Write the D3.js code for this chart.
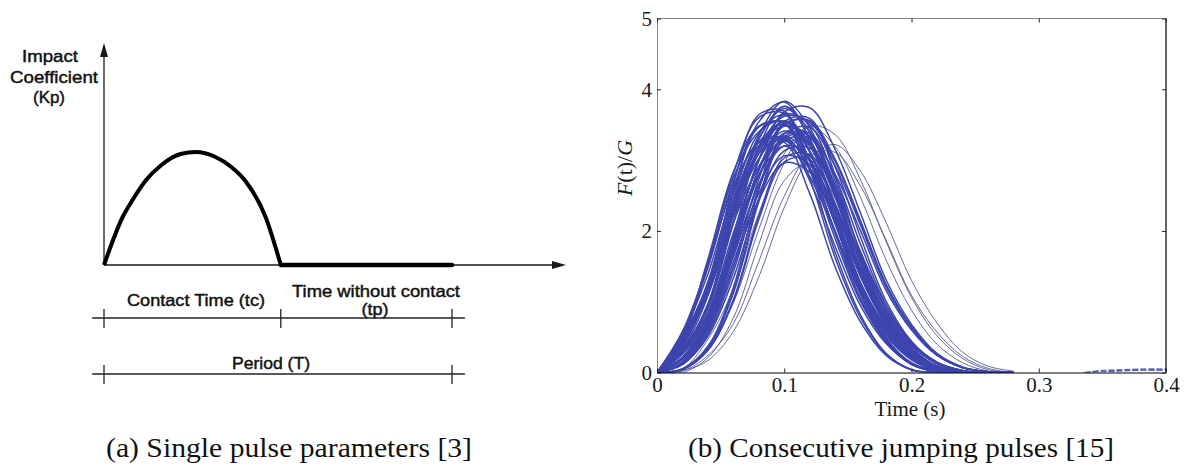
<!DOCTYPE html>
<html><head><meta charset="utf-8">
<script src="https://cdn.jsdelivr.net/npm/d3@7"></script>
<style>html,body{margin:0;padding:0;background:#fff;} svg{display:block}</style>
</head><body>
<svg id="chart" width="1186" height="470"></svg>
<script>
// ---------- (a) single pulse model ----------
const shapeT  = [0, 0.054, 0.082, 0.121, 0.165, 0.22, 0.264, 0.319, 0.365, 0.408, 0.464, 0.508];
const shapeKp = [0, 0.427, 0.575, 0.752, 0.885, 0.982, 1.0, 0.958, 0.869, 0.737, 0.427, 0.0];
const contactEnd = 0.508;   // tc / T
const periodEnd = 1.0;      // T
const ylabelLines = ["Impact", "Coefficient", "(Kp)"];

// ---------- (b) consecutive jumping pulses ----------
const timeGrid = [0, 0.02, 0.04, 0.06, 0.08, 0.10, 0.12, 0.14, 0.16, 0.18, 0.20, 0.22, 0.24, 0.26, 0.28];
const bandPulses = [
  [0,.30,.90,2.10,3.10,3.55,3.20,2.35,1.35,.68,.25,.05,0,0,0],
  [0,.44,1.22,2.46,3.38,3.64,3.13,2.18,1.21,.57,.20,.03,0,0,0],
  [0,.20,.70,1.72,2.78,3.38,3.23,2.50,1.55,.81,.33,.09,.01,0,0],
  [0,.56,1.48,2.70,3.47,3.52,2.88,1.89,1.00,.44,.13,.02,0,0,0],
  [0,.12,.54,1.42,2.60,3.33,3.38,2.76,1.81,.96,.42,.13,.02,0,0],
  [0,.28,.85,1.97,2.91,3.34,3.01,2.21,1.27,.64,.24,.05,0,0,0],
  [0,.32,.95,2.23,3.29,3.76,3.39,2.49,1.43,.72,.27,.05,0,0,0],
  [0,.40,1.11,2.25,3.09,3.33,2.86,2.00,1.10,.52,.18,.03,0,0,0],
  [0,.22,.76,1.86,3.01,3.65,3.50,2.71,1.68,.87,.36,.09,.01,0,0],
  [0,.14,.66,1.81,3.00,3.55,3.12,2.13,1.11,.46,.12,.01,0,0,0],
  [0,.05,.34,1.12,2.41,3.30,3.35,2.61,1.54,.74,.25,.04,0,0,0],
  [0,.36,1.17,2.53,3.47,3.52,2.74,1.62,.77,.26,.04,0,0,0,0],
  [0,.13,.61,1.68,2.79,3.30,2.90,1.98,1.03,.43,.11,.01,0,0,0],
  [0,.05,.37,1.20,2.58,3.54,3.59,2.79,1.65,.79,.26,.04,0,0,0],
  [0,.48,1.20,2.30,3.15,3.55,3.25,2.52,1.62,.90,.41,.14,.03,0,0],
  [0,.50,1.60,2.83,3.48,3.53,2.98,2.12,1.23,.64,.26,.07,.01,0,0],
  [0,.26,.74,1.67,2.66,3.27,3.32,2.80,2.00,1.16,.60,.24,.07,.01,0],
  [0,.50,1.26,2.42,3.31,3.73,3.41,2.65,1.70,.95,.43,.15,.03,0,0],
  [0,.48,1.50,2.63,3.24,3.29,2.77,1.98,1.15,.60,.24,.07,.01,0,0],
  [0,.46,1.28,2.58,3.54,3.82,3.28,2.29,1.26,.60,.21,.03,0,0,0],
  [0,.38,1.23,2.66,3.64,3.69,2.87,1.70,.81,.27,.04,0,0,0,0],
  [0,.19,.66,1.63,2.64,3.20,3.06,2.37,1.47,.76,.31,.08,.01,0,0],
  [0,.44,1.10,2.12,2.90,3.27,2.99,2.32,1.49,.83,.38,.13,.02,0,0],
  [0,.53,1.39,2.54,3.26,3.31,2.71,1.78,.94,.41,.12,.02,0,0,0],
  [0,.15,.70,1.92,3.18,3.76,3.31,2.26,1.18,.49,.13,.01,0,0,0],
  [0,.28,.79,1.79,2.85,3.51,3.56,3.01,2.14,1.25,.65,.26,.07,.01,0],
  [0,.18,.63,1.56,2.53,3.06,2.93,2.27,1.41,.73,.30,.08,.01,0,0],
  [0,.04,.32,1.03,2.21,3.03,3.08,2.39,1.41,.68,.23,.04,0,0,0],
  [0,.27,.81,1.89,2.79,3.20,2.88,2.12,1.22,.61,.23,.05,0,0,0],
  [0,.32,.97,2.27,3.35,3.83,3.46,2.54,1.46,.73,.27,.05,0,0,0],
  [0,.42,1.17,2.37,3.25,3.50,3.01,2.10,1.16,.55,.19,.03,0,0,0],
  [0,.21,.72,1.77,2.87,3.48,3.33,2.58,1.60,.83,.34,.09,.01,0,0],
  [0,.58,1.54,2.81,3.60,3.66,2.99,1.96,1.04,.46,.14,.02,0,0,0],
  [0,.12,.57,1.49,2.73,3.50,3.55,2.90,1.91,1.01,.44,.13,.02,0,0],
  [0,.11,.51,1.33,2.44,3.13,3.17,2.59,1.70,.90,.40,.12,.02,0,0],
  [0,.14,.66,1.81,3.00,3.55,3.25,2.52,1.62,.90,.41,.14,.03,0,0],
  [0,.48,1.20,2.30,3.15,3.55,3.12,2.13,1.11,.46,.12,.01,0,0,0],
  [0,.41,1.15,2.32,3.19,3.48,3.26,2.53,1.57,.81,.33,.09,.01,0,0],
  [0,.21,.72,1.77,2.87,3.50,3.01,2.10,1.16,.55,.19,.03,0,0,0],
  [0,.50,1.55,2.75,3.40,3.55,3.12,2.13,1.11,.46,.12,.01,0,0,0],
  [0,.05,.35,1.14,2.46,3.37,3.46,2.92,2.08,1.21,.63,.25,.07,.01,0],
  [0,.31,.92,2.14,3.16,3.62,3.53,2.98,2.12,1.23,.64,.26,.07,.01,0],
  [0,.46,1.15,2.21,3.02,3.41,3.20,2.48,1.54,.80,.33,.09,.01,0,0],
  [0,.33,1.08,2.34,3.20,3.25,2.53,1.49,.71,.24,.04,0,0,0,0],
  [0,.29,.83,1.88,2.99,3.68,3.74,3.15,2.25,1.31,.68,.27,.08,.01,0],
  [0,.18,.61,1.50,2.44,2.96,2.83,2.19,1.36,.71,.29,.08,.01,0,0],
  [0,.04,.31,1.00,2.16,2.97,3.01,2.34,1.38,.66,.22,.04,0,0,0]
];
const latePulses = [
  [0,.03,.37,.99,2.02,2.96,3.48,3.36,2.72,1.85,1.06,.52,.20,.04,0],
  [0,.03,.17,.58,1.35,2.33,3.02,3.22,2.84,2.12,1.30,.70,.29,.09,.02],
  [0,0,.21,.77,1.81,2.71,2.96,2.46,1.57,.79,.30,.07,0,0,0],
  [0,.05,.47,1.18,2.25,3.09,3.48,3.19,2.47,1.59,.88,.40,.14,.02,0],
  [0,.02,.24,.69,1.57,2.49,3.07,3.11,2.63,1.87,1.09,.57,.23,.06,0]
];
const nextPulseTime = [0.336, 0.35, 0.365, 0.38, 0.40];
const nextPulseValues = [
  [0, .02, .03, .04, .04],
  [0, .03, .04, .05, .05],
  [0, .01, .02, .03, .03]
];
const xTicks = [0, 0.1, 0.2, 0.3, 0.4];
const yTicks = [0, 2, 4, 5];

const svg = d3.select("#chart");

// ================= panel (a) =================
const xa = d3.scaleLinear().domain([0, 1]).range([104, 452]);
const ya = d3.scaleLinear().domain([0, 2]).range([265, 39]);
const ga = svg.append("g");
const ink = "#1a1a1a";

ga.append("line").attr("x1", xa(0)).attr("x2", 556).attr("y1", ya(0)).attr("y2", ya(0))
  .attr("stroke", ink).attr("stroke-width", 1.3);
ga.append("line").attr("x1", xa(0)).attr("x2", xa(0)).attr("y1", ya(0)).attr("y2", 52)
  .attr("stroke", ink).attr("stroke-width", 1.3);
ga.append("path").attr("d", `M566,${ya(0)} L552,${ya(0)-4} L552,${ya(0)+4} Z`).attr("fill", ink);
ga.append("path").attr("d", `M${xa(0)},43 L${xa(0)-4},57 L${xa(0)+4},57 Z`).attr("fill", ink);

const shape = shapeT.map((t, i) => [t, shapeKp[i]]);
ga.append("path").datum(shape)
  .attr("d", d3.line().x(d => xa(d[0])).y(d => ya(d[1])).curve(d3.curveMonotoneX))
  .attr("fill", "none").attr("stroke", "#000").attr("stroke-width", 4).attr("stroke-linejoin", "round");
ga.append("line").attr("x1", xa(contactEnd)).attr("x2", xa(periodEnd))
  .attr("y1", ya(0)).attr("y2", ya(0)).attr("stroke", "#000").attr("stroke-width", 4.5)
  .attr("stroke-linecap", "round");

function dimLine(yPos, marks) {
  ga.append("line").attr("x1", xa(-0.034)).attr("x2", xa(1.037)).attr("y1", yPos).attr("y2", yPos)
    .attr("stroke", "#222").attr("stroke-width", 1.3);
  marks.forEach(m => ga.append("line").attr("x1", xa(m)).attr("x2", xa(m))
    .attr("y1", yPos - 9).attr("y2", yPos + 10).attr("stroke", "#222").attr("stroke-width", 1.3));
}
dimLine(318, [0, contactEnd, periodEnd]);
dimLine(374, [0, periodEnd]);

const sans = "'Liberation Sans', Arial, sans-serif";
function label(txt, x, y, len, size) {
  ga.append("text").attr("x", x).attr("y", y).attr("text-anchor", "middle")
    .attr("font-family", sans).attr("font-size", size).attr("fill", "#111")
    .attr("stroke", "#111").attr("stroke-width", 0.45)
    .attr("textLength", len).attr("lengthAdjust", "spacingAndGlyphs").text(txt);
}
label(ylabelLines[0], 50, 62, 56, 17);
label(ylabelLines[1], 54, 83, 88, 17);
label(ylabelLines[2], 49, 103, 32, 17);
label("Contact Time (tc)", 196, 306, 138, 17);
label("Time without contact", 376, 297, 168, 17);
label("(tp)", 375, 315, 27, 17);
label("Period (T)", 271, 369, 78, 17);

// ================= panel (b) =================
const x = d3.scaleLinear().domain([0, 0.4]).range([657, 1166]);
const y = d3.scaleLinear().domain([0, 5]).range([372.5, 18.5]);
const gb = svg.append("g");

gb.append("clipPath").attr("id", "plotclip").append("rect")
  .attr("x", x(0)).attr("y", y(5)).attr("width", x(0.4) - x(0)).attr("height", y(0) - y(5));

const line = d3.line().x(d => x(d[0])).y(d => y(d[1])).curve(d3.curveCatmullRom.alpha(0.5));
const curves = gb.append("g").attr("clip-path", "url(#plotclip)");
const toPts = vals => vals.map((v, i) => [timeGrid[i], v]);

curves.selectAll("path.late").data(latePulses).join("path").attr("class", "late")
  .attr("d", v => line(toPts(v))).attr("fill", "none").attr("stroke", "#55598f").attr("stroke-width", 0.9);
curves.selectAll("path.band").data(bandPulses).join("path").attr("class", "band")
  .attr("d", v => line(toPts(v))).attr("fill", "none").attr("stroke", "#3c45ad").attr("stroke-width", 1.5);
curves.selectAll("path.next").data(nextPulseValues).join("path").attr("class", "next")
  .attr("d", v => line(v.map((d, i) => [nextPulseTime[i], d]))).attr("fill", "none")
  .attr("stroke", "#4a52b0").attr("stroke-width", 1).attr("stroke-dasharray", "6,2");

gb.append("line").attr("x1", x(0)).attr("x2", x(0.4)).attr("y1", y(5)).attr("y2", y(5)).attr("stroke", "#888").attr("stroke-width", 1);
gb.append("line").attr("x1", x(0.4)).attr("x2", x(0.4)).attr("y1", y(5)).attr("y2", y(0)).attr("stroke", "#000").attr("stroke-width", 1.2);

const serif = "'Liberation Serif', 'Times New Roman', serif";
const axL = gb.append("g").attr("transform", `translate(${x(0)},0)`)
  .call(d3.axisLeft(y).tickValues(yTicks).tickSizeInner(-4).tickSizeOuter(0).tickPadding(5).tickFormat(d3.format("d")));
axL.select(".domain").attr("stroke", "#888");
const axB = gb.append("g").attr("transform", `translate(0,${y(0)})`)
  .call(d3.axisBottom(x).tickValues(xTicks).tickSizeInner(-4).tickSizeOuter(0).tickPadding(5)
    .tickFormat(d => d === 0 ? "0" : d3.format(".1f")(d)));
axB.select(".domain").attr("stroke", "#000").attr("stroke-width", 1.2);
gb.append("g").attr("transform", `translate(${x(0.4)},0)`)
  .call(d3.axisRight(y).tickValues(yTicks).tickSizeInner(-4).tickSizeOuter(0).tickFormat(""))
  .select(".domain").remove();
gb.append("g").attr("transform", `translate(0,${y(5)})`)
  .call(d3.axisTop(x).tickValues(xTicks).tickSizeInner(-4).tickSizeOuter(0).tickFormat(""))
  .select(".domain").remove();
gb.selectAll(".tick line").attr("stroke", "#222");
gb.selectAll(".tick text").attr("font-family", serif).attr("font-size", 21).attr("fill", "#1a1a1a");

gb.append("text").attr("x", 910).attr("y", 416).attr("text-anchor", "middle")
  .attr("font-family", serif).attr("font-size", 21).attr("fill", "#1a1a1a").text("Time (s)");
const yt = gb.append("text").attr("transform", "translate(632,168) rotate(-90)").attr("text-anchor", "middle")
  .attr("font-family", serif).attr("font-size", 22).attr("fill", "#1a1a1a");
yt.append("tspan").attr("font-style", "italic").text("F");
yt.append("tspan").text("(t)/");
yt.append("tspan").attr("font-style", "italic").text("G");

// captions
svg.append("text").attr("x", 289).attr("y", 457).attr("text-anchor", "middle")
  .attr("font-family", serif).attr("font-size", 28).attr("fill", "#111")
  .attr("textLength", 366).attr("lengthAdjust", "spacingAndGlyphs")
  .text("(a) Single pulse parameters [3]");
svg.append("text").attr("x", 901).attr("y", 457).attr("text-anchor", "middle")
  .attr("font-family", serif).attr("font-size", 28).attr("fill", "#111")
  .attr("textLength", 426).attr("lengthAdjust", "spacingAndGlyphs")
  .text("(b) Consecutive jumping pulses [15]");
</script>
</body></html>
